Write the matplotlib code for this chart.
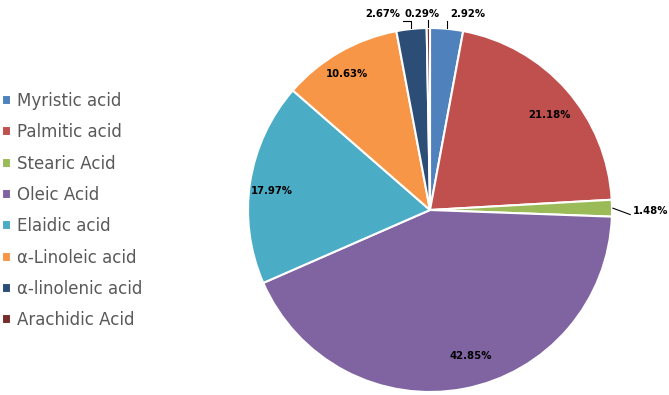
import numpy as np
import matplotlib.pyplot as plt

names = ["Myristic acid", "Palmitic acid", "Stearic Acid", "Oleic Acid",
         "Elaidic acid", "α-Linoleic acid", "α-linolenic acid", "Arachidic Acid"]
values = [2.92, 21.18, 1.48, 42.85, 17.97, 10.63, 2.67, 0.29]
colors = ["#4F81BD", "#C0504D", "#9BBB59", "#8064A2",
          "#4BACC6", "#F79646", "#2C4D75", "#772C2A"]

W, H = 669, 395
cx, cy, R = 430, 210, 182

fig = plt.figure(figsize=(W / 100, H / 100), dpi=100)
ax = fig.add_axes([(cx - R) / W, (H - cy - R) / H, 2 * R / W, 2 * R / H])

wedges, _ = ax.pie(values, colors=colors, startangle=90, counterclock=False,
                   radius=1, wedgeprops=dict(edgecolor="white", linewidth=1.5))
ax.set_xlim(-1, 1)
ax.set_ylim(-1, 1)
ax.set_aspect("equal")
ax.axis("off")

# inside labels: (radial fraction, angle offset in degrees from wedge middle)
inside = {1: (0.837, -2.8), 3: (0.833, 4.9), 4: (0.874, 1.8), 5: (0.875, 1.6)}
# outside labels: text x, text y, ha, leader style
outside = {0: (0.110, 1.077, "left", "elbow"),
           7: (-0.041, 1.077, "center", "up"),
           6: (-0.165, 1.077, "right", "elbow"),
           2: (1.115, -0.005, "left", "straight")}

for i, w in enumerate(wedges):
    mid = (w.theta1 + w.theta2) / 2
    txt = f"{values[i]:.2f}%"
    if i in inside:
        r, dth = inside[i]
        a = np.deg2rad(mid + dth)
        ax.text(r * np.cos(a), r * np.sin(a), txt, ha="center", va="center",
                fontsize=7.3, fontweight="bold", color="black")
        continue
    tx, ty, ha, style = outside[i]
    a = np.deg2rad(mid)
    ex, ey = np.cos(a), np.sin(a)
    ax.text(tx, ty, txt, ha=ha, va="center", fontsize=7.3,
            fontweight="bold", color="black", clip_on=False)
    # leader line from the wedge edge to the label
    if style == "elbow":
        ly = ty - 0.04
        end = tx + 0.016 if ha == "right" else tx - 0.016
        xs, ys = [ex, ex, end], [ey + 0.005, ly, ly]
    elif style == "up":
        xs, ys = [ex, ex], [ey + 0.005, ty - 0.035]
    else:
        xs, ys = [ex + 0.005, tx - 0.015], [ey, ty - 0.02]
    ax.plot(xs, ys, color="black", lw=0.8, clip_on=False)

leg = fig.legend(wedges, names, loc="center left", bbox_to_anchor=(0.003, 1 - 210.7 / H),
                 frameon=False, fontsize=12, handlelength=0.55, handleheight=0.55,
                 handletextpad=0.35, labelspacing=0.8, borderpad=0, borderaxespad=0)
for t in leg.get_texts():
    t.set_color("#595959")

fig.savefig("out.png", dpi=100)
